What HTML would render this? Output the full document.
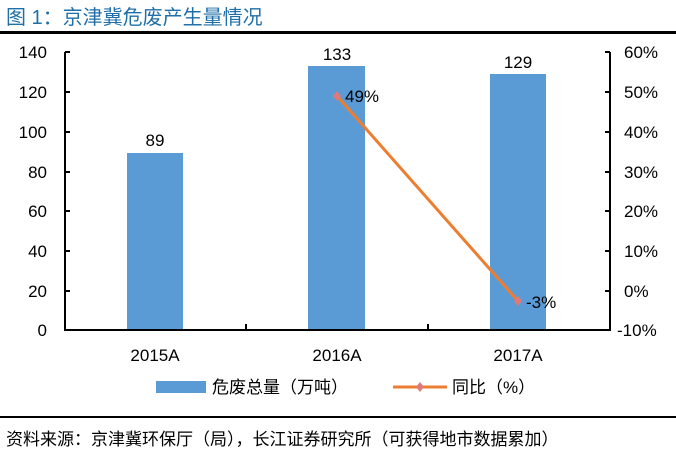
<!DOCTYPE html>
<html><head><meta charset="utf-8"><style>
body{margin:0;background:#fff;}
svg text{font-family:"Liberation Sans","Noto Sans CJK SC",sans-serif;}
</style></head><body>
<svg width="676" height="452" xmlns="http://www.w3.org/2000/svg">
<text x="6" y="24" font-size="20" fill="#1f6fa8">图 1：京津冀危废产生量情况</text>
<rect x="0" y="31" width="676" height="3" fill="#000"/>
<g font-size="17" fill="#000" text-anchor="end">
<text x="47" y="58">140</text><text x="47" y="98">120</text><text x="47" y="138">100</text>
<text x="47" y="178">80</text><text x="47" y="217">60</text><text x="47" y="257">40</text>
<text x="47" y="297">20</text><text x="47" y="336">0</text>
</g>
<g font-size="17" fill="#000" text-anchor="start">
<text x="624" y="58">60%</text><text x="624" y="98">50%</text><text x="624" y="138">40%</text>
<text x="624" y="178">30%</text><text x="624" y="217">20%</text><text x="624" y="257">10%</text>
<text x="624" y="297">0%</text><text x="617" y="336">-10%</text>
</g>
<rect x="127" y="153" width="56" height="177" fill="#5b9bd5"/>
<rect x="308" y="66" width="57" height="264" fill="#5b9bd5"/>
<rect x="490" y="74" width="56" height="256" fill="#5b9bd5"/>
<g stroke="#000" stroke-width="2" fill="none">
<path d="M65 52 V330 H610 V52"/>
<path d="M65 52h5M65 92h5M65 132h5M65 172h5M65 211h5M65 251h5M65 291h5"/>
<path d="M610 52h-5M610 92h-5M610 132h-5M610 172h-5M610 211h-5M610 251h-5M610 291h-5"/>
<path d="M246 330v-6M428 330v-6"/>
</g>
<g font-size="17" text-anchor="middle" fill="#000">
<text x="155" y="146">89</text><text x="337" y="60">133</text><text x="518" y="68">129</text>
<text x="155" y="361">2015A</text><text x="337" y="361">2016A</text><text x="518" y="361">2017A</text>
</g>
<polyline points="337,96 518,301" stroke="#ed7d31" stroke-width="3" fill="none"/>
<path d="M337 91l4 5-4 5-4-5z M518 296l4 5-4 5-4-5z" fill="#e07a7a"/>
<text x="345" y="102" font-size="17">49%</text>
<text x="526" y="308" font-size="17">-3%</text>
<rect x="156" y="381" width="50" height="12" fill="#5b9bd5"/>
<text x="212" y="393" font-size="17">危废总量（万吨）</text>
<line x1="393" y1="387" x2="447" y2="387" stroke="#ed7d31" stroke-width="3"/>
<path d="M420 382l4 5-4 5-4-5z" fill="#e07a7a"/>
<text x="452" y="393" font-size="17">同比（%）</text>
<rect x="0" y="416" width="676" height="2" fill="#000"/>
<text x="6" y="445" font-size="17" fill="#000">资料来源：京津冀环保厅（局），长江证券研究所（可获得地市数据累加）</text>
</svg>
</body></html>
